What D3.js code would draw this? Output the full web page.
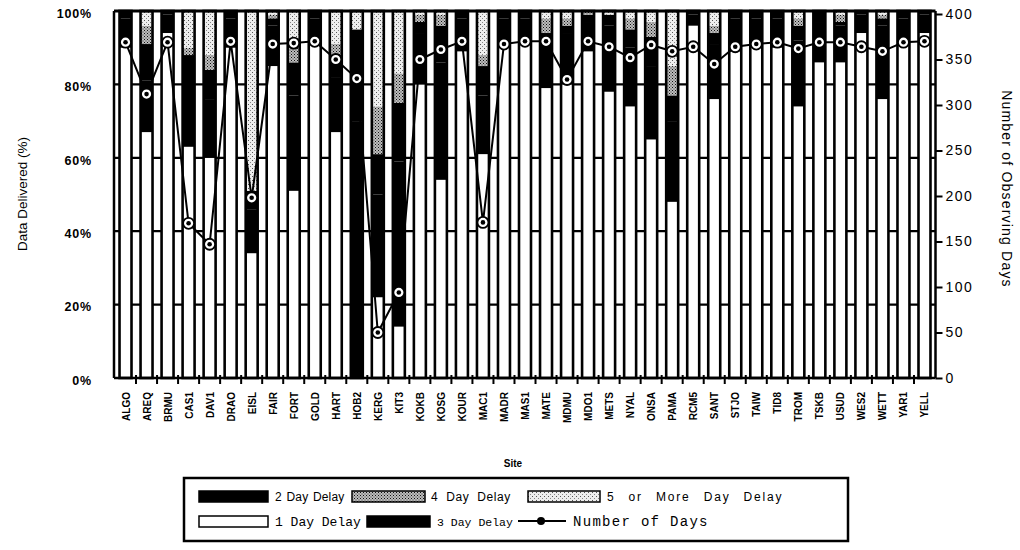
<!DOCTYPE html>
<html>
<head>
<meta charset="utf-8">
<script src="https://cdn.jsdelivr.net/npm/d3@7"></script>
<style>
  body { margin: 0; background: #fff; }
  svg { display: block; }
  text { fill: #000; }
</style>
</head>
<body>
<svg id="chart" width="1020" height="550"></svg>
<script>
// Sites and share of data delivered (%) by delivery delay
const sites = ["ALGO","AREQ","BRMU","CAS1","DAV1","DRAO","EISL","FAIR","FORT","GOLD",
  "HART","HOB2","KERG","KIT3","KOKB","KOSG","KOUR","MAC1","MADR","MAS1",
  "MATE","MDMU","MDO1","METS","NYAL","ONSA","PAMA","RCM5","SANT","STJO",
  "TAIW","TID8","TROM","TSKB","USUD","WES2","WETT","YAR1","YELL"];
const oneDay   = [90,67,94,63,60,90,34,85,51,91, 67, 0,22,14,80,54,89,61,90,91, 79,80,89,78,74,65,48,96,76,89, 90,90,74,86,86,94,76,91,94];
const twoDay   = [ 8,14, 5,17,16, 8,12,11,26, 7, 15,70,28,45,14,32, 9,16, 8, 7, 12,14, 8,18,16,20,22, 3,15, 9,  8, 8,18,11,10, 5,20, 7, 5];
const threeDay = [ 2,10, 1, 8, 8, 2, 5, 2, 9, 2,  6,25,11,16, 3,10, 2, 8, 2, 2,  3, 2, 2, 3, 5, 8, 7, 1, 3, 2,  2, 2, 4, 3, 1, 1, 2, 2, 1];
const fourDay  = [ 0, 5, 0, 2, 4, 0, 0, 1, 5, 0,  3, 0,13, 8, 2, 3, 0, 3, 0, 0,  4, 2, 1, 0, 3, 4, 8, 0, 2, 0,  0, 0, 2, 0, 2, 0, 1, 0, 0];
const fivePlus = [ 0, 4, 0,10,12, 0,49, 1, 9, 0,  9, 5,26,17, 1, 1, 0,12, 0, 0,  2, 2, 0, 1, 2, 3,15, 0, 4, 0,  0, 0, 2, 0, 1, 0, 1, 0, 0];
// Number of observing days per site
const numDays  = [369,312,369,170,147,370,198,367,368,370, 350,329,50,94,350,361,370,171,367,370,
  370,328,370,364,352,366,359,364,345,364, 367,369,362,369,369,364,359,369,370];

const pctTicks = [0,20,40,60,80,100];
const dayTicks = [0,50,100,150,200,250,300,350,400];
const delayKeys = ["d1","d2","d3","d4","d5"];

const svg = d3.select("#chart");
const defs = svg.append("defs");

// stipple textures for the 4-day and 5+ day segments
const dense = defs.append("pattern").attr("id","dense").attr("patternUnits","userSpaceOnUse")
  .attr("width",3).attr("height",3);
dense.append("rect").attr("width",3).attr("height",3).attr("fill","#bdbdbd");
dense.append("rect").attr("x",0).attr("y",0).attr("width",1).attr("height",1).attr("fill","#111");
dense.append("rect").attr("x",1.5).attr("y",1.5).attr("width",1).attr("height",1).attr("fill","#333");

const light = defs.append("pattern").attr("id","light").attr("patternUnits","userSpaceOnUse")
  .attr("width",4).attr("height",4);
light.append("rect").attr("width",4).attr("height",4).attr("fill","#eeeeee");
light.append("rect").attr("x",0).attr("y",0).attr("width",1).attr("height",1).attr("fill","#555");
light.append("rect").attr("x",2).attr("y",2).attr("width",1).attr("height",1).attr("fill","#888");

const fills = { d1: "#ffffff", d2: "#000000", d3: "#000000", d4: "url(#dense)", d5: "url(#light)" };

const x = d3.scaleBand().domain(sites).range([115, 935]).paddingInner(0.43).paddingOuter(0.215);
const y = d3.scaleLinear().domain([0, 100]).range([378, 11]);
const yDays = d3.scaleLinear().domain([0, 400]).range([378, 14]);

const plotL = 114, plotR = 935.5;

// horizontal grid
svg.append("g").selectAll("line").data(pctTicks.filter(d => d > 0 && d < 100)).join("line")
  .attr("x1", plotL).attr("x2", plotR)
  .attr("y1", d => y(d)).attr("y2", d => y(d))
  .attr("stroke", "#000").attr("stroke-width", 2.2);

// stacked bars
const rows = sites.map((s, i) => ({ site: s, d1: oneDay[i], d2: twoDay[i], d3: threeDay[i], d4: fourDay[i], d5: fivePlus[i] }));
const series = d3.stack().keys(delayKeys)(rows);

svg.append("g").selectAll("g").data(series).join("g")
  .attr("fill", d => fills[d.key])
  .selectAll("rect").data(d => d).join("rect")
  .attr("x", d => x(d.data.site))
  .attr("width", x.bandwidth())
  .attr("y", d => y(d[1]))
  .attr("height", d => Math.max(0, y(d[0]) - y(d[1])));

// bar outlines
const total = d => d.d1 + d.d2 + d.d3 + d.d4 + d.d5;
svg.append("g").selectAll("rect").data(rows).join("rect")
  .attr("x", d => x(d.site))
  .attr("width", x.bandwidth())
  .attr("y", d => y(total(d)))
  .attr("height", d => y(0) - y(total(d)))
  .attr("fill", "none").attr("stroke", "#000").attr("stroke-width", 2.6);

// frame: top edge, left and right axis lines, baseline
svg.append("line").attr("x1", plotL).attr("x2", plotR).attr("y1", y(100)).attr("y2", y(100))
  .attr("stroke", "#000").attr("stroke-width", 3);
svg.append("line").attr("x1", plotL).attr("x2", plotL).attr("y1", y(100)).attr("y2", y(0))
  .attr("stroke", "#000").attr("stroke-width", 2.5);
svg.append("line").attr("x1", plotR).attr("x2", plotR).attr("y1", y(100)).attr("y2", y(0))
  .attr("stroke", "#000").attr("stroke-width", 2.5);
svg.append("line").attr("x1", plotL).attr("x2", plotR).attr("y1", y(0)).attr("y2", y(0))
  .attr("stroke", "#000").attr("stroke-width", 2.5);

// category ticks between bars
const gap = x.step() - x.bandwidth();
svg.append("g").selectAll("line").data(sites.slice(1)).join("line")
  .attr("x1", d => x(d) - gap / 2).attr("x2", d => x(d) - gap / 2)
  .attr("y1", y(0) - 3).attr("y2", y(0) + 6)
  .attr("stroke", "#000").attr("stroke-width", 2);

// site labels
svg.append("g").selectAll("text").data(sites).join("text")
  .attr("transform", d => `translate(${x(d) + x.bandwidth() / 2 + 4},392) rotate(-90)`)
  .attr("text-anchor", "end")
  .style("font", "bold 10px 'Liberation Sans', Arial, sans-serif")
  .text(d => d);

// left axis (percent)
const leftAxis = svg.append("g").attr("transform", `translate(${plotL},0)`)
  .call(d3.axisLeft(y).tickValues(pctTicks).tickFormat(d => d + "%").tickSize(0).tickPadding(22));
leftAxis.select(".domain").remove();
leftAxis.selectAll("text")
  .style("font", "bold 12.5px 'Liberation Sans', Arial, sans-serif")
  .style("letter-spacing", "0.8px")
  .attr("dy", "0.5em");

// right axis (days)
const rightAxis = svg.append("g").attr("transform", `translate(${plotR},0)`)
  .call(d3.axisRight(yDays).tickValues(dayTicks).tickSize(7).tickPadding(3));
rightAxis.select(".domain").remove();
rightAxis.selectAll("line").attr("stroke", "#000").attr("stroke-width", 2);
rightAxis.selectAll("text")
  .style("font", "14px 'Liberation Sans', Arial, sans-serif")
  .style("letter-spacing", "1.5px");

// number of observing days
const line = d3.line().x((d, i) => x(sites[i]) + x.bandwidth() / 2).y(d => yDays(d));
svg.append("path").datum(numDays).attr("d", line)
  .attr("fill", "none").attr("stroke", "#000").attr("stroke-width", 2);
const marks = svg.append("g").selectAll("g").data(numDays).join("g")
  .attr("transform", (d, i) => `translate(${x(sites[i]) + x.bandwidth() / 2},${yDays(d)})`);
marks.append("circle").attr("r", 5.5).attr("fill", "#fff").attr("stroke", "#000").attr("stroke-width", 1.8);
marks.append("circle").attr("r", 2.3).attr("fill", "#000");

// axis titles
svg.append("text").attr("transform", "translate(27,194) rotate(-90)")
  .attr("text-anchor", "middle")
  .style("font", "13.5px 'Liberation Sans', Arial, sans-serif")
  .text("Data Delivered (%)");
svg.append("text").attr("transform", "translate(1002,189) rotate(90)")
  .attr("text-anchor", "middle")
  .style("font", "14px 'Liberation Sans', Arial, sans-serif")
  .style("letter-spacing", "1.2px")
  .text("Number of Observing Days");
svg.append("text").attr("x", 513).attr("y", 467).attr("text-anchor", "middle")
  .style("font", "bold 10px 'Liberation Sans', Arial, sans-serif")
  .text("Site");

// legend
const legend = svg.append("g");
legend.append("rect").attr("x", 184).attr("y", 478).attr("width", 664).attr("height", 63)
  .attr("fill", "none").attr("stroke", "#000").attr("stroke-width", 2.5);

const sansFont = "12px 'Liberation Sans', Arial, sans-serif";
const monoFont = "'Liberation Mono', 'Courier New', monospace";
const legendItems = [
  { key: "d2", label: "2 Day Delay", x: 199, y: 491, w: 69, tx: 275, font: sansFont, ls: 0.2, ws: 1 },
  { key: "d4", label: "4 Day Delay", x: 352, y: 491, w: 73, tx: 431, font: sansFont, ls: 0.6, ws: 4 },
  { key: "d5", label: "5 or More Day Delay", x: 528, y: 491, w: 72, tx: 607, font: sansFont, ls: 1.8, ws: 8 },
  { key: "d1", label: "1 Day Delay", x: 199, y: 516, w: 69, tx: 275, font: "13px " + monoFont, ls: 0, ws: 0 },
  { key: "d3", label: "3 Day Delay", x: 367, y: 516, w: 63, tx: 437, font: "11.5px " + monoFont, ls: 0, ws: 0 }
];
legendItems.forEach(it => {
  legend.append("rect").attr("x", it.x).attr("y", it.y).attr("width", it.w).attr("height", 11)
    .attr("fill", fills[it.key]).attr("stroke", "#000").attr("stroke-width", 1.5);
  legend.append("text").attr("x", it.tx).attr("y", it.y + 10)
    .style("font", it.font).style("letter-spacing", it.ls + "px").style("word-spacing", it.ws + "px")
    .text(it.label);
});
legend.append("line").attr("x1", 518).attr("x2", 566).attr("y1", 521).attr("y2", 521)
  .attr("stroke", "#000").attr("stroke-width", 2);
legend.append("circle").attr("cx", 541).attr("cy", 521).attr("r", 4).attr("fill", "#000");
legend.append("text").attr("x", 573).attr("y", 526)
  .style("font", "14px " + monoFont).style("letter-spacing", "1.3px")
  .text("Number of Days");
</script>
</body>
</html>
